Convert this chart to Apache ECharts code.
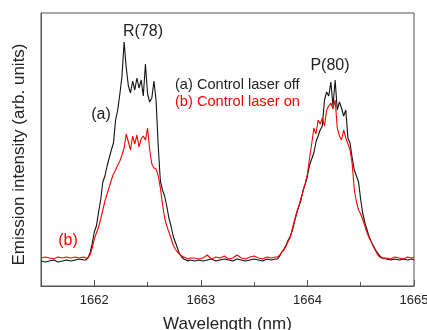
<!DOCTYPE html>
<html>
<head>
<meta charset="utf-8">
<script src="https://cdn.jsdelivr.net/npm/echarts@6/dist/echarts.min.js"></script>
<style>
html,body{margin:0;padding:0;background:#fff;}
#chart{width:427px;height:330px;}
</style>
</head>
<body>
<div id="chart"></div>
<script>
// Wavelength grid (nm)
const wavelength = [
1661.50,1661.54,1661.58,1661.62,1661.66,1661.70,1661.74,1661.78,1661.82,1661.86,1661.90,
1661.92,1661.94,1661.96,1661.98,1662.00,1662.02,1662.04,1662.06,1662.08,1662.10,
1662.12,1662.14,1662.16,1662.18,1662.20,1662.22,1662.24,1662.26,1662.28,1662.30,
1662.32,1662.34,1662.36,1662.38,1662.40,1662.42,1662.44,1662.46,1662.48,1662.50,
1662.52,1662.54,1662.56,1662.58,1662.60,1662.62,1662.64,1662.66,1662.68,1662.70,
1662.72,1662.74,1662.76,1662.78,1662.80,1662.82,1662.84,1662.86,1662.88,1662.90,
1662.94,1662.98,1663.02,1663.06,1663.10,1663.14,1663.18,1663.22,1663.26,1663.30,
1663.34,1663.38,1663.42,1663.46,1663.50,1663.54,1663.58,1663.62,1663.66,1663.70,
1663.72,1663.74,1663.76,1663.78,1663.80,1663.82,1663.84,1663.86,1663.88,1663.90,
1663.92,1663.94,1663.96,1663.98,1664.00,1664.02,1664.04,1664.06,1664.08,1664.10,
1664.12,1664.14,1664.16,1664.18,1664.20,1664.22,1664.24,1664.26,1664.28,1664.30,
1664.32,1664.34,1664.36,1664.38,1664.40,1664.42,1664.44,1664.46,1664.48,1664.50,
1664.52,1664.54,1664.56,1664.58,1664.60,1664.62,1664.64,1664.66,1664.68,1664.70,
1664.74,1664.78,1664.82,1664.86,1664.90,1664.94,1664.98,1665.00
];

// (a) Control laser off (black)
const laserOff = [
25,24,25,26,24,25,26,25,26,27,26,
26,28,33,42,54,60,74,86,104,110,
120,128,136,143,166,176,192,210,244,218,
200,193,205,196,208,198,206,190,222,192,
184,188,205,185,140,105,96,90,80,68,
60,50,44,38,32,29,27,26,25,26,
25,26,25,26,27,25,26,27,26,25,
27,26,25,26,27,26,25,27,26,27,
27,30,34,37,41,46,50,56,65,73,
80,86,96,102,110,121,127,133,144,150,
156,160,186,194,190,204,180,206,176,184,
178,170,176,148,143,128,116,110,104,86,
72,63,56,49,44,40,36,33,30,28,
27,26,27,26,27,26,27,26
];

// (b) Control laser on (red)
const laserOn = [
28,29,28,27,29,28,29,28,29,28,29,
28,28,31,38,47,53,59,67,76,85,
92,99,106,112,116,121,125,131,138,152,
144,136,150,142,151,139,147,150,146,158,
136,122,118,117,110,98,82,68,60,54,
48,41,37,34,32,30,29,28,27,28,
28,27,28,31,27,29,28,30,27,28,
31,28,27,29,30,28,27,29,28,29,
29,31,34,36,40,45,49,58,66,74,
80,88,95,103,112,128,142,158,152,166,
162,168,160,176,180,183,177,186,158,150,
146,156,148,142,136,122,96,84,76,72,
66,60,53,48,44,39,35,31,29,28,
28,27,29,28,27,29,28,29
];

const majorTicks = [1662, 1663, 1664, 1665];
const minorTicks = [1662.5, 1663.5, 1664.5];

const FONT = "'Liberation Sans', Arial, Helvetica, sans-serif";
const zip = (xs, ys) => xs.map((x, i) => [x, ys[i]]);

const chart = echarts.init(document.getElementById('chart'), null, {renderer: 'canvas'});
chart.setOption({
  animation: false,
  backgroundColor: '#fff',
  grid: {left: 41, top: 13, right: 13, bottom: 44, show: true, borderColor: '#555', borderWidth: 1,
    outerBoundsMode: 'none', containLabel: false},
  xAxis: [{
    type: 'value', min: 1661.5, max: 1665, position: 'bottom',
    axisLine: {show: true, lineStyle: {color: '#555', width: 1}},
    axisTick: {show: true, inside: true, length: 6, customValues: majorTicks, lineStyle: {color: '#555'}},
    axisLabel: {customValues: majorTicks, margin: 8, color: '#222', fontSize: 13, fontFamily: FONT,
      formatter: v => String(v)},
    splitLine: {show: false},
    name: 'Wavelength (nm)', nameLocation: 'middle', nameGap: 30,
    nameTextStyle: {fontSize: 17, color: '#222', fontFamily: FONT}
  }, {
    type: 'value', min: 1661.5, max: 1665, position: 'top', offset: -273, gridIndex: 0,
    axisLine: {show: false},
    axisTick: {show: true, inside: false, length: 4, customValues: minorTicks, lineStyle: {color: '#555'}},
    axisLabel: {show: false},
    splitLine: {show: false}
  }],
  yAxis: {
    type: 'value', min: 0, max: 273,
    axisLine: {show: true, lineStyle: {color: '#555'}},
    axisTick: {show: false}, axisLabel: {show: false}, splitLine: {show: false},
    name: 'Emission intensity (arb. units)', nameLocation: 'middle', nameGap: 13, nameRotate: 90,
    nameTextStyle: {fontSize: 17, color: '#222', fontFamily: FONT, padding: [0, 10, 0, 0]}
  },
  series: [{
    name: '(a) Control laser off', type: 'line', data: zip(wavelength, laserOff),
    showSymbol: false, symbol: 'none', lineStyle: {color: '#111', width: 1.1}, z: 2
  }, {
    name: '(b) Control laser on', type: 'line', data: zip(wavelength, laserOn),
    showSymbol: false, symbol: 'none', lineStyle: {color: '#ff0000', width: 1.1}, z: 3
  }],
  graphic: [
    {type: 'text', x: 143, y: 32, style: {text: 'R(78)', fill: '#222', font: '16px ' + FONT, align: 'center', verticalAlign: 'middle'}},
    {type: 'text', x: 330, y: 66, style: {text: 'P(80)', fill: '#222', font: '16px ' + FONT, align: 'center', verticalAlign: 'middle'}},
    {type: 'text', x: 101, y: 115, style: {text: '(a)', fill: '#222', font: '16px ' + FONT, align: 'center', verticalAlign: 'middle'}},
    {type: 'text', x: 68, y: 241, style: {text: '(b)', fill: '#ff0000', font: '16px ' + FONT, align: 'center', verticalAlign: 'middle'}},
    {type: 'text', x: 175, y: 85, style: {text: '(a) Control laser off', fill: '#222', font: '14.6px ' + FONT, align: 'left', verticalAlign: 'middle'}},
    {type: 'text', x: 175, y: 102, style: {text: '(b) Control laser on', fill: '#ff0000', font: '14.6px ' + FONT, align: 'left', verticalAlign: 'middle'}}
  ]
});
</script>
</body>
</html>
